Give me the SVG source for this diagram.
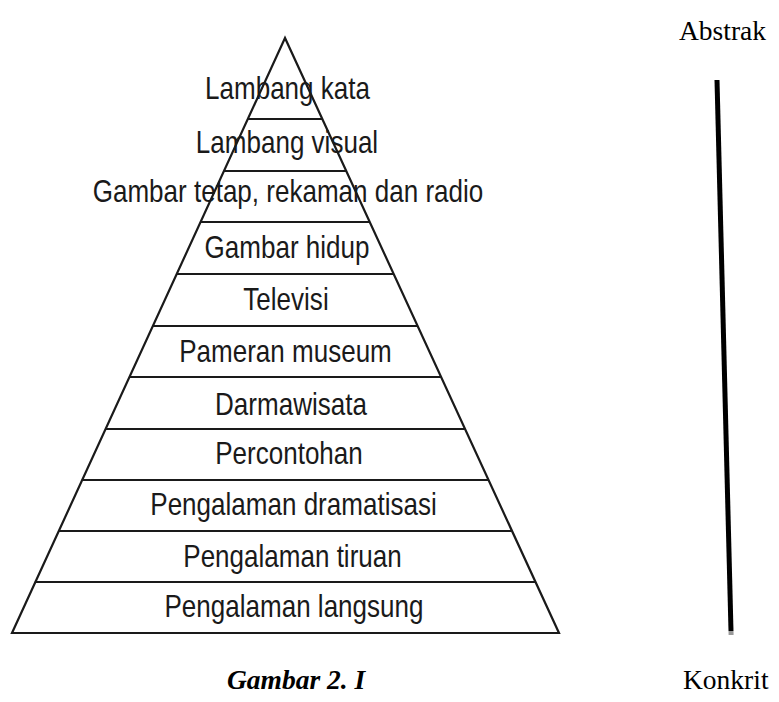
<svg xmlns="http://www.w3.org/2000/svg" width="779" height="702" viewBox="0 0 779 702">
<style>
.lbl{font-family:"Liberation Sans",Arial,sans-serif;font-size:31px;fill:#1a1a1a;text-anchor:middle}
.serif{font-family:"Liberation Serif","Times New Roman",serif;font-size:27.5px;fill:#000}
.edge{stroke:#1a1a1a;stroke-width:2.2;fill:none}
</style>
<rect width="779" height="702" fill="#fff"/>
<g id="connectors">
<polygon class="edge" points="285,38 12,633 559,633" stroke-linejoin="miter"/>
<line class="edge" x1="247.8" y1="119" x2="322.2" y2="119"/>
<line class="edge" x1="223.9" y1="171" x2="346.1" y2="171"/>
<line class="edge" x1="200.4" y1="222" x2="369.6" y2="222"/>
<line class="edge" x1="176.5" y1="274" x2="393.5" y2="274"/>
<line class="edge" x1="152.6" y1="326" x2="417.4" y2="326"/>
<line class="edge" x1="129.2" y1="377" x2="440.8" y2="377"/>
<line class="edge" x1="105.3" y1="429" x2="464.7" y2="429"/>
<line class="edge" x1="81.8" y1="480" x2="488.2" y2="480"/>
<line class="edge" x1="58.4" y1="531" x2="511.6" y2="531"/>
<line class="edge" x1="34.9" y1="582" x2="535.1" y2="582"/>
<line x1="717" y1="80" x2="731" y2="631" stroke="#000" stroke-width="5"/>
<line x1="731" y1="631" x2="731.1" y2="635" stroke="#999" stroke-width="5"/>
</g>
<g id="n1" transform="translate(287.5 0) scale(0.84 1)"><text class="lbl" x="0" y="99">Lambang kata</text></g>
<g id="n2" transform="translate(287 0) scale(0.84 1)"><text class="lbl" x="0" y="153">Lambang visual</text></g>
<g id="n3" transform="translate(288 0) scale(0.84 1)"><text class="lbl" x="0" y="202">Gambar tetap, rekaman dan radio</text></g>
<g id="n4" transform="translate(287 0) scale(0.84 1)"><text class="lbl" x="0" y="258">Gambar hidup</text></g>
<g id="n5" transform="translate(286 0) scale(0.84 1)"><text class="lbl" x="0" y="310">Televisi</text></g>
<g id="n6" transform="translate(285.5 0) scale(0.84 1)"><text class="lbl" x="0" y="362">Pameran museum</text></g>
<g id="n7" transform="translate(291 0) scale(0.84 1)"><text class="lbl" x="0" y="415">Darmawisata</text></g>
<g id="n8" transform="translate(289 0) scale(0.84 1)"><text class="lbl" x="0" y="464">Percontohan</text></g>
<g id="n9" transform="translate(293.5 0) scale(0.84 1)"><text class="lbl" x="0" y="515">Pengalaman dramatisasi</text></g>
<g id="n10" transform="translate(292.5 0) scale(0.84 1)"><text class="lbl" x="0" y="567">Pengalaman tiruan</text></g>
<g id="n11" transform="translate(294 0) scale(0.84 1)"><text class="lbl" x="0" y="617">Pengalaman langsung</text></g>
<g id="abstrak"><text class="serif" x="679" y="40">Abstrak</text></g>
<g id="konkrit"><text class="serif" x="683" y="689">Konkrit</text></g>
<g id="caption"><text class="serif" x="227" y="689" font-size="32" font-weight="bold" font-style="italic">Gambar 2. I</text></g>
</svg>
